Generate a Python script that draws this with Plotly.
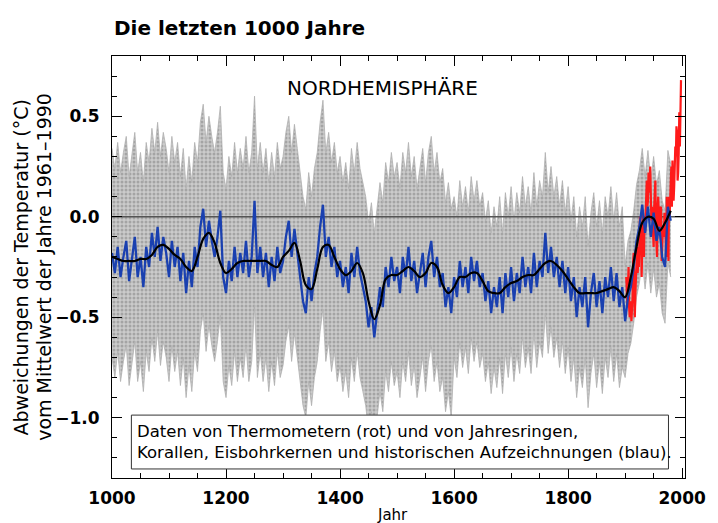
import plotly.graph_objects as go

# ---------------- data ----------------
blue_years = list(range(1000, 1981, 5))
blue_vals = [
    -0.18, -0.28, -0.15, -0.30, -0.20, -0.12, -0.32, -0.22, -0.10, -0.30,
    -0.20, -0.35, -0.15, -0.25, -0.08, -0.20, -0.05, -0.22, -0.10, -0.18,
    -0.30, -0.12, -0.25, -0.15, -0.32, -0.18, -0.38, -0.22, -0.35, -0.15,
    -0.25, -0.05, 0.04, -0.15, -0.02, -0.12, -0.20, -0.10, 0.03, -0.30,
    -0.38, -0.22, -0.32, -0.15, -0.30, -0.18, -0.28, -0.12, -0.30, -0.20,
    0.08, -0.28, -0.15, -0.30, -0.18, -0.35, -0.20, -0.32, -0.15, -0.28,
    -0.22, -0.10, -0.02, -0.20, -0.06, -0.18, -0.30, -0.42, -0.48, -0.30,
    -0.42, -0.28, -0.20, -0.05, 0.06, -0.20, -0.10, -0.25, -0.15, -0.30,
    -0.22, -0.35, -0.25, -0.38, -0.18, -0.30, -0.15, -0.28, -0.35, -0.42,
    -0.55, -0.45, -0.60, -0.48, -0.35, -0.45, -0.25, -0.35, -0.20, -0.32,
    -0.25, -0.38, -0.20, -0.30, -0.15, -0.32, -0.22, -0.38, -0.28, -0.18,
    -0.35, -0.20, -0.12, -0.30, -0.20, -0.35, -0.28, -0.45, -0.35, -0.48,
    -0.30, -0.40, -0.22, -0.35, -0.25, -0.38, -0.20, -0.32, -0.22, -0.35,
    -0.28, -0.42, -0.32, -0.48, -0.35, -0.45, -0.30, -0.48, -0.28, -0.40,
    -0.25, -0.42, -0.28, -0.38, -0.20, -0.35, -0.25, -0.38, -0.18, -0.35,
    -0.22, -0.30, -0.08, -0.28, -0.15, -0.30, -0.20, -0.35, -0.22, -0.38,
    -0.25, -0.42, -0.30, -0.50, -0.35, -0.45, -0.30, -0.55, -0.38, -0.28,
    -0.45, -0.32, -0.48, -0.30, -0.40, -0.25, -0.42, -0.28, -0.45, -0.35,
    -0.52, -0.40, -0.35, -0.25, -0.12, -0.05, 0.06, -0.08, 0.05, -0.10,
    0.02, -0.12, -0.05, -0.20, -0.25, 0.05, -0.02,
]

smooth_years = list(range(1000, 1981, 10))
smooth_vals = [
    -0.20, -0.21, -0.22, -0.22, -0.22, -0.21, -0.21, -0.19, -0.15, -0.14,
    -0.16, -0.19, -0.21, -0.25, -0.27, -0.20, -0.11, -0.08, -0.13, -0.23,
    -0.28, -0.26, -0.23, -0.22, -0.22, -0.22, -0.22, -0.22, -0.24, -0.25,
    -0.20, -0.17, -0.13, -0.22, -0.34, -0.36, -0.26, -0.15, -0.14, -0.20,
    -0.26, -0.29, -0.27, -0.23, -0.28, -0.42, -0.51, -0.44, -0.31, -0.29,
    -0.29, -0.27, -0.25, -0.27, -0.30, -0.28, -0.23, -0.25, -0.34, -0.38,
    -0.35, -0.30, -0.30, -0.28, -0.28, -0.32, -0.37, -0.38, -0.38, -0.35,
    -0.33, -0.32, -0.30, -0.29, -0.29, -0.26, -0.23, -0.22, -0.24, -0.27,
    -0.31, -0.35, -0.38, -0.38, -0.38, -0.38, -0.37, -0.36, -0.35, -0.37,
    -0.40, -0.30, -0.15, -0.03, 0.00, -0.01, -0.07, -0.03, 0.03,
]

red_years = list(range(1902, 1999))
red_vals = [
    -0.30, -0.40, -0.45, -0.35, -0.25, -0.45, -0.50, -0.48, -0.42, -0.52,
    -0.45, -0.40, -0.22, -0.18, -0.38, -0.50, -0.38, -0.30, -0.28, -0.15,
    -0.28, -0.22, -0.25, -0.12, 0.00, -0.10, -0.12, -0.30, -0.05, 0.02,
    -0.02, -0.20, 0.00, -0.08, 0.02, 0.12, 0.18, 0.05, 0.08, 0.22,
    0.12, 0.15, 0.25, 0.05, -0.02, 0.05, -0.02, 0.00, -0.15, 0.05,
    0.12, 0.18, -0.08, -0.12, -0.20, 0.05, 0.10, 0.02, -0.05, 0.05,
    0.02, 0.05, -0.22, -0.15, -0.08, -0.05, -0.10, 0.02, -0.02, -0.15,
    -0.20, 0.10, -0.18, -0.05, -0.22, 0.10, 0.00, 0.08, 0.15, 0.25,
    0.05, 0.28, 0.10, 0.08, 0.15, 0.28, 0.35, 0.30, 0.45, 0.42,
    0.18, 0.22, 0.32, 0.52, 0.35, 0.55, 0.68,
]

# half-width of the grey uncertainty range, per period (start, end, half-width)
band_periods = [(1000, 1599, 0.52), (1600, 1899, 0.40), (1900, 1980, 0.28)]

x_range = [1000, 2005]
y_range = [-1.3, 0.8]
xtick_vals = [1000, 1200, 1400, 1600, 1800, 2000]
ytick_vals = [-1.0, -0.5, 0.0, 0.5]

title_text = "Die letzten 1000 Jahre"
region_text = "NORDHEMISPHÄRE"
ytitle_1 = "Abweichungen der Temperatur (°C)"
ytitle_2 = "vom Mittelwert der Jahre 1961–1990"
xtitle = "Jahr"
legend_1 = "Daten von Thermometern (rot) und von Jahresringen,"
legend_2 = "Korallen, Eisbohrkernen und historischen Aufzeichnungen (blau)."

# ---------------- figure ----------------
def halfwidth(y):
    for a, b, h in band_periods:
        if a <= y <= b:
            return h
    return band_periods[-1][2]

upper = [v + halfwidth(y) for y, v in zip(blue_years, blue_vals)]
lower = [v - halfwidth(y) for y, v in zip(blue_years, blue_vals)]

FONT = "DejaVu Sans"
fig = go.Figure()

fig.add_trace(go.Scatter(x=blue_years, y=lower, mode="lines",
                         line=dict(width=0.8, color="#b0b0b0"), hoverinfo="skip",
                         showlegend=False))
fig.add_trace(go.Scatter(x=blue_years, y=upper, mode="lines",
                         line=dict(width=0.8, color="#b0b0b0"), fill="tonexty",
                         fillcolor="#c8c8c8",
                         fillpattern=dict(shape=".", bgcolor="#cbcbcb",
                                          fgcolor="#7e7e7e", size=4, solidity=0.45),
                         hoverinfo="skip", showlegend=False))
# zero reference line over the grey band
fig.add_trace(go.Scatter(x=x_range, y=[0, 0], mode="lines",
                         line=dict(color="#555555", width=1.5),
                         hoverinfo="skip", showlegend=False))
fig.add_trace(go.Scatter(x=red_years, y=red_vals, mode="lines",
                         line=dict(color="#ff1a1a", width=2.2), showlegend=False))
fig.add_trace(go.Scatter(x=blue_years, y=blue_vals, mode="lines",
                         line=dict(color="#1a40b0", width=2.3), showlegend=False))
fig.add_trace(go.Scatter(x=smooth_years, y=smooth_vals, mode="lines",
                         line=dict(color="#000000", width=2.2, shape="spline"),
                         showlegend=False))

axis_common = dict(showline=True, linecolor="black", linewidth=1, mirror="ticks",
                   ticks="inside", ticklen=10, tickcolor="black", tickwidth=1,
                   showgrid=False, zeroline=False)

fig.update_xaxes(range=x_range, tickvals=xtick_vals,
                 tickfont=dict(family=FONT, size=17, color="black", weight="bold"),
                 ticklabelstandoff=5,
                 minor=dict(dtick=50, tick0=1000, ticks="inside", ticklen=5,
                            tickcolor="black", tickwidth=1),
                 **axis_common)
fig.update_yaxes(range=y_range, tickvals=ytick_vals, tickformat=".1f",
                 tickfont=dict(family=FONT, size=17, color="black", weight="bold"),
                 ticklabelstandoff=8,
                 minor=dict(dtick=0.1, tick0=0, ticks="inside", ticklen=5,
                            tickcolor="black", tickwidth=1),
                 **axis_common)

fig.add_shape(type="rect", xref="x", yref="y", x0=1034, x1=1976, y0=-1.255, y1=-0.987,
              line=dict(color="#333333", width=1), fillcolor="white", layer="above")

annos = [
    dict(text=title_text, xref="paper", yref="paper", x=0.0, y=1.066,
         xanchor="left", yanchor="middle",
         font=dict(family=FONT, size=20, color="black", weight="bold")),
    dict(text=region_text, xref="x", yref="y", x=1475, y=0.641,
         xanchor="center", yanchor="middle",
         font=dict(family=FONT, size=20, color="black")),
    dict(text=legend_1, xref="x", yref="y", x=1040, y=-1.071,
         xanchor="left", yanchor="middle",
         font=dict(family=FONT, size=16.5, color="black")),
    dict(text=legend_2, xref="x", yref="y", x=1040, y=-1.171,
         xanchor="left", yanchor="middle",
         font=dict(family=FONT, size=16.5, color="black")),
    dict(text=xtitle, xref="paper", yref="paper", x=0.49, y=-0.088,
         xanchor="center", yanchor="middle",
         font=dict(family=FONT, size=15, color="black")),
    dict(text=ytitle_1, xref="paper", yref="paper", x=-0.158, y=0.5,
         xanchor="center", yanchor="middle", textangle=-90,
         font=dict(family=FONT, size=19, color="black")),
    dict(text=ytitle_2, xref="paper", yref="paper", x=-0.119, y=0.5,
         xanchor="center", yanchor="middle", textangle=-90,
         font=dict(family=FONT, size=19, color="black")),
]
for a in annos:
    a["showarrow"] = False
    fig.add_annotation(**a)

fig.update_layout(width=718, height=523,
                  margin=dict(l=112, r=24, t=56, b=45),
                  paper_bgcolor="white", plot_bgcolor="white",
                  showlegend=False)

fig.write_html("out.html")
